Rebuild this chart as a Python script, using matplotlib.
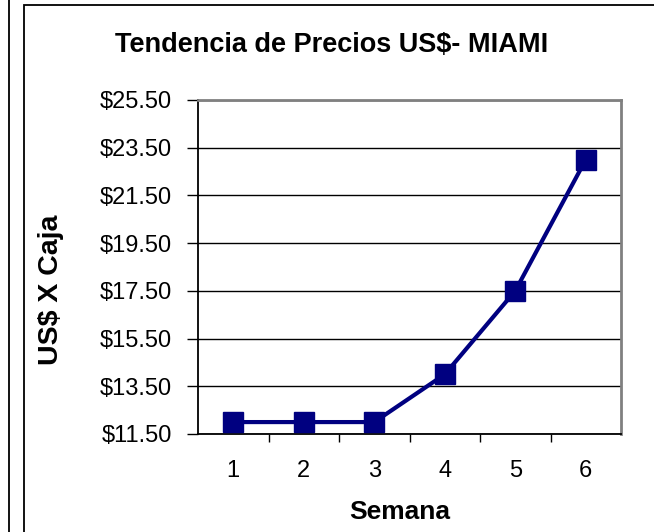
import matplotlib
matplotlib.use("Agg")
import matplotlib.pyplot as plt
from matplotlib.patches import Rectangle
from matplotlib.lines import Line2D

plt.rcParams['font.family'] = ['Liberation Sans', 'DejaVu Sans']

# datos
semanas = [1, 2, 3, 4, 5, 6]
precios = [12.0, 12.0, 12.0, 14.0, 17.5, 23.0]
y_ticks = [11.5, 13.5, 15.5, 17.5, 19.5, 21.5, 23.5, 25.5]

W, H = 654, 532
fig = plt.figure(figsize=(W / 100, H / 100), dpi=100)

# marco del grafico y borde del grafico vecino
fig.add_artist(Rectangle((24 / W, -0.05), 1.0, (H - 5) / H + 0.05, transform=fig.transFigure,
                         fill=False, edgecolor='black', linewidth=1.3))
fig.add_artist(Line2D([8.5 / W, 8.5 / W], [0, 1], transform=fig.transFigure,
                      color='black', linewidth=1.3))

# area de trazado: x 198..621, y 100..434 px
ax = fig.add_axes([198 / W, 1 - 434 / H, (621 - 198) / W, (434 - 100) / H])
ax.plot(semanas, precios, color='#000080', linewidth=3.0, marker='s',
        markersize=15, markerfacecolor='#000080', markeredgecolor='#000080', zorder=3)

ax.set_xlim(0.5, 6.5)
ax.set_ylim(11.5, 25.5)
ax.set_yticks(y_ticks)
ax.set_yticklabels(['$%.2f' % v for v in y_ticks], fontsize=17)
ax.set_xticks(semanas)
ax.set_xticklabels([str(s) for s in semanas], fontsize=17)
ax.set_xticks([1.5, 2.5, 3.5, 4.5, 5.5], minor=True)
ax.tick_params(axis='x', which='major', length=0, pad=19)
ax.tick_params(axis='x', which='minor', length=6, width=1, color='black')
ax.tick_params(axis='y', length=8, width=1, color='black', pad=11)
ax.yaxis.grid(True, color='black', linewidth=1)
ax.set_axisbelow(True)

for side in ['top', 'right']:
    ax.spines[side].set_color('#808080')
    ax.spines[side].set_linewidth(2)
ax.spines['left'].set_color('black')
ax.spines['bottom'].set_color('black')
ax.spines['left'].set_linewidth(1.3)
ax.spines['bottom'].set_linewidth(1.3)

fig.text(332 / W, 1 - 45 / H, 'Tendencia de Precios US$- MIAMI', ha='center', va='center',
         fontsize=19.5, fontweight='bold')
fig.text(400 / W, 1 - 512 / H, 'Semana', ha='center', va='center',
         fontsize=19, fontweight='bold')
fig.text(51 / W, 1 - 290 / H, 'US$ X Caja', ha='center', va='center', rotation=90,
         fontsize=20.5, fontweight='bold')

fig.savefig('out.png', dpi=100)
